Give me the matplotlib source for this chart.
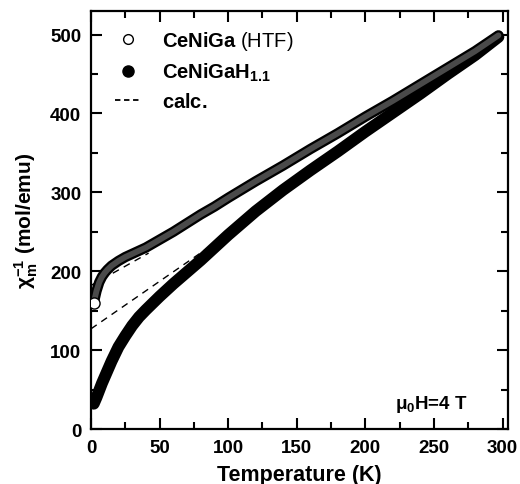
import numpy as np
import matplotlib
matplotlib.use("Agg")
import matplotlib.pyplot as plt
from matplotlib.lines import Line2D
from matplotlib.ticker import MultipleLocator

plt.rcParams['font.family'] = ['Liberation Sans', 'DejaVu Sans']
plt.rcParams['mathtext.fontset'] = 'custom'
plt.rcParams['mathtext.rm'] = 'Liberation Sans'
plt.rcParams['mathtext.bf'] = 'Liberation Sans:bold'
plt.rcParams['mathtext.it'] = 'Liberation Sans:italic'

# CeNiGa (HTF), open circles
T_htf = [2, 4, 6, 8, 10, 12, 15, 20, 25, 30, 40, 50, 60, 70, 80, 90, 100,
         120, 140, 160, 180, 200, 220, 240, 260, 280, 297]
chi_htf = [160, 175, 186, 193, 198, 202, 207, 213, 218, 222, 230, 240, 250,
           261, 272, 282, 293, 314, 334, 355, 375, 396, 416, 437, 458, 479, 499]

# CeNiGaH1.1, filled circles
T_hyd = [2, 4, 6, 8, 10, 15, 20, 25, 30, 35, 40, 50, 60, 70, 80, 90, 100,
         120, 140, 160, 180, 200, 220, 240, 260, 280, 297]
chi_hyd = [32, 40, 49, 58, 66, 86, 104, 118, 131, 142, 151, 168, 184, 199,
           214, 230, 246, 276, 303, 328, 352, 377, 401, 425, 450, 474, 497]

# calculated lines
T_calc1 = [0, 42]
chi_calc1 = [182, 223]
T_calc2 = [0, 88]
chi_calc2 = [127, 233]

fig = plt.figure(figsize=(5.2, 4.85), dpi=100)
ax = fig.add_axes([0.175, 0.1134, 0.802, 0.862])

ax.plot(T_calc1, chi_calc1, color='black', lw=1.0, ls=(0, (5, 4)), zorder=2)
ax.plot(T_calc2, chi_calc2, color='black', lw=1.0, ls=(0, (5, 4)), zorder=2)

# filled band
ax.plot(T_hyd, chi_hyd, color='black', lw=8.5, solid_capstyle='round',
        solid_joinstyle='round', zorder=3)
# open-circle band
ax.plot(T_htf, chi_htf, color='black', lw=7.5, solid_capstyle='round',
        solid_joinstyle='round', zorder=4)
ax.plot(T_htf, chi_htf, color='#4a4a4a', lw=4.2, solid_capstyle='round',
        solid_joinstyle='round', zorder=5)
ax.plot(T_htf, chi_htf, ls='none', marker='o', ms=8, mfc='white', mec='black',
        mew=1.0, markevery=[0], zorder=6)

ax.set_xlim(0, 304)
ax.set_ylim(0, 530)
ax.xaxis.set_major_locator(MultipleLocator(50))
ax.xaxis.set_minor_locator(MultipleLocator(25))
ax.yaxis.set_major_locator(MultipleLocator(100))
ax.yaxis.set_minor_locator(MultipleLocator(50))
ax.tick_params(which='both', direction='in', top=True, right=True, width=1.5,
               labelsize=13.5, pad=7)
ax.tick_params(which='major', length=8)
ax.tick_params(which='minor', length=5)
for lab in ax.get_xticklabels() + ax.get_yticklabels():
    lab.set_fontweight('bold')
for sp in ax.spines.values():
    sp.set_linewidth(1.6)

ax.set_xlabel('Temperature (K)', fontsize=15.5, fontweight='bold', labelpad=6)
ax.set_ylabel(r'χ$_{\mathbf{m}}^{\mathbf{-1}}$ (mol/emu)', fontsize=15,
              fontweight='bold', labelpad=7)

ax.text(0.73, 0.06, r'μ$_{\mathbf{0}}$H=4 T', transform=ax.transAxes,
        fontsize=13.5, fontweight='bold', va='center')

handles = [
    Line2D([], [], ls='none', marker='o', ms=7, mfc='white', mec='black', mew=1.0),
    Line2D([], [], ls='none', marker='o', ms=8, mfc='black', mec='black'),
    Line2D([], [], color='black', lw=1.3, ls=(0, (3, 2))),
]
labels = [r'$\mathbf{CeNiGa}$ (HTF)', r'$\mathbf{CeNiGaH_{1.1}}$', r'$\mathbf{calc.}$']
ax.legend(handles, labels, loc='upper left', frameon=False, fontsize=14.5,
          handlelength=1.3, handletextpad=1.0, labelspacing=0.45,
          bbox_to_anchor=(0.015, 1.0), borderaxespad=0.5)

fig.savefig('out.png', dpi=100)
